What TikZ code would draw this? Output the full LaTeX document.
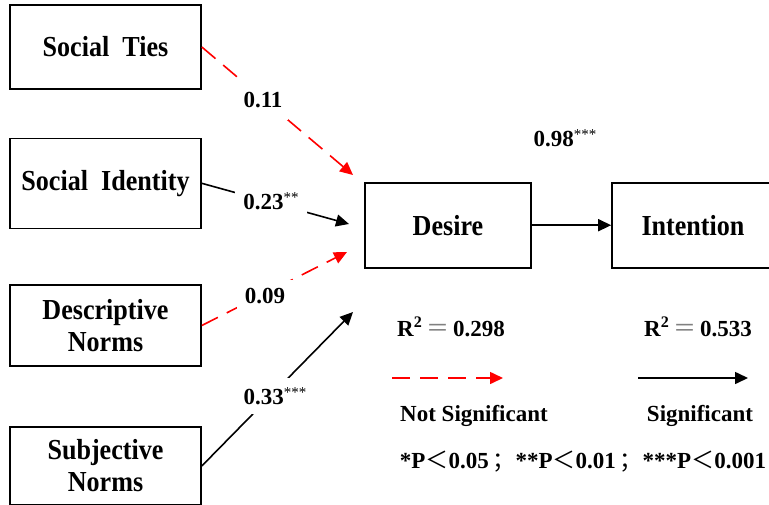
\documentclass[tikz,border=0pt]{standalone}
\usepackage{fontspec}
\setmainfont{Liberation Serif}
\newfontfamily\narrowserif{Liberation Serif}[FakeStretch=0.9]
\newfontfamily\cjk{Noto Sans CJK SC}
\usetikzlibrary{arrows.meta}

% small raised significance stars
\newcommand\stars[1]{\raisebox{6.5pt}{\fontsize{15}{15}\selectfont\mdseries #1}}

\begin{document}
\begin{tikzpicture}[x=1pt,y=-1pt,
  box/.style={draw,line width=1.6pt,inner sep=0pt,align=center,
    font=\narrowserif\fontsize{29}{32}\selectfont\bfseries},
  coef/.style={fill=white,inner xsep=6pt,inner ysep=8pt,
    font=\fontsize{23}{26}\selectfont\bfseries},
  txt/.style={inner sep=0pt,font=\fontsize{23}{26}\selectfont\bfseries},
  sig/.style={line width=1.6pt,-{Triangle[length=13pt,width=12pt]}},
  nsig/.style={sig,red,dash pattern=on 18pt off 10pt},
]
\useasboundingbox (0,0) rectangle (769,504);
\clip (0,0) rectangle (769,504);

% predictor boxes
\node[box,minimum width=191pt,minimum height=84pt] (ties) at (105.5,47) {Social~~Ties};
\node[box,minimum width=191pt,minimum height=90pt] (ident) at (105.5,183.3) {Social~~Identity};
\node[box,minimum width=191pt,minimum height=81pt] (desc) at (105.5,325.5) {Descriptive\\Norms};
\node[box,minimum width=191pt,minimum height=78pt] (subj) at (105.5,466) {Subjective\\Norms};

% outcome boxes
\node[box,minimum width=166pt,minimum height=85pt] (desire) at (448,225.2) {Desire};
\node[box,minimum width=162pt,minimum height=85pt] (intent) at (693,225.2) {Intention};

% arrow ends in front of Desire
\coordinate (t1) at (353,175);
\coordinate (t2) at (349,224);
\coordinate (t3) at (347,252);
\coordinate (t4) at (353,312);

% paths
\draw[nsig] (ties.east) -- (t1);
\draw[sig] (ident.east) -- (t2);
\draw[nsig] (desc.east) -- (t3);
\draw[sig] (subj.east) -- (t4);
\draw[sig] (desire.east) -- (intent.west);

% path coefficients
\node[coef,inner ysep=12pt] (c1) at (263,100) {0.11};
\node[coef,inner xsep=8pt] (c2) at (271,201) {0.23\stars{**}};
\node[coef,inner xsep=8pt] (c3) at (265,296) {0.09};
\node[coef,inner ysep=10pt] (c4) at (275,396) {0.33\stars{***}};
\node[txt] (c5) at (565,138) {0.98\stars{***}};

% explained variance
\node[txt] (r1) at (451,327) {R\textsuperscript{2}\,{\cjk\mdseries\color{gray}＝}\,0.298};
\node[txt] (r2) at (698,327) {R\textsuperscript{2}\,{\cjk\mdseries\color{gray}＝}\,0.533};

% legend
\coordinate (la) at (392,378);
\coordinate (lb) at (503,378);
\coordinate (lc) at (638,378);
\coordinate (ld) at (748,378);
\draw[nsig] (la) -- (lb);
\draw[sig] (lc) -- (ld);
\node[txt] (n1) at (474,416) {Not Significant};
\node[txt] (n2) at (700,416) {Significant};
\node[txt] (pv) at (583,462) {*P{\cjk\mdseries ＜}0.05\,{\cjk\mdseries ；}**P{\cjk\mdseries ＜}0.01\,{\cjk\mdseries ；}***P{\cjk\mdseries ＜}0.001};
\end{tikzpicture}
\end{document}
